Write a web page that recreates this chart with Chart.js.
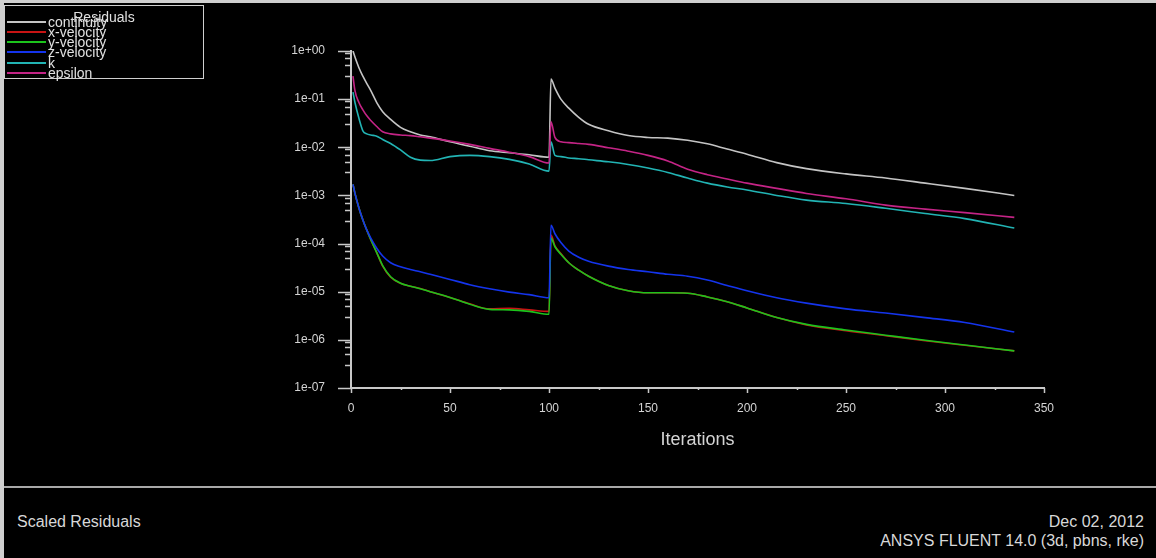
<!DOCTYPE html>
<html>
<head>
<meta charset="utf-8">
<script src="https://cdn.jsdelivr.net/npm/chart.js@4.4.1/dist/chart.umd.min.js"></script>
<style>
  html, body { margin: 0; padding: 0; background: #000; }
  body { width: 1156px; height: 558px; position: relative; overflow: hidden; font-family: "Liberation Sans", Arial, sans-serif; }
  #plot { position: absolute; left: 0; top: 0; }
  .edge { position: absolute; background: #cfcfcf; }
  #legend { position: absolute; left: 4px; top: 5px; width: 198px; height: 72px; border: 1px solid #cfcfcf; }
  #legend .title { position: absolute; left: 0; width: 198px; top: 4px; text-align: center; color: #e0e0e0; font-size: 14px; line-height: 14px; }
  #legend .swatch { position: absolute; left: 2px; width: 39px; height: 2px; }
  #legend .name { position: absolute; left: 43px; color: #e0e0e0; font-size: 14px; line-height: 14px; white-space: nowrap; }
  #sep { position: absolute; left: 4px; right: 0; top: 486px; height: 2px; background: #a8a8a8; }
  .foot { position: absolute; color: #d8d8d8; font-size: 16px; line-height: 18px; white-space: nowrap; }
</style>
</head>
<body>
<canvas id="plot" width="1156" height="486"></canvas>
<div class="edge" style="left:0;top:0;width:1156px;height:3px"></div>
<div class="edge" style="left:0;top:0;width:4px;height:558px"></div>
<div id="legend"><div class="title">Residuals</div></div>
<div id="sep"></div>
<div class="foot" style="left:17px;top:513px">Scaled Residuals</div>
<div class="foot" style="right:12px;top:513px">Dec 02, 2012</div>
<div class="foot" style="right:12px;top:532px">ANSYS FLUENT 14.0 (3d, pbns, rke)</div>
<script>
// Solver iterations at which the residuals are sampled
const iterations = [1, 2, 4, 6, 8, 10, 13, 16, 20, 25, 30, 35, 40, 50, 60, 70, 80, 90, 100,
  101, 103, 106, 110, 115, 120, 130, 140, 150, 160, 170, 180, 190, 200, 215, 230, 250, 270, 290, 310, 335];

// Scaled residuals per equation
const continuity = [1.0, 0.75, 0.45, 0.30, 0.21, 0.15, 0.085, 0.055, 0.038, 0.026, 0.021, 0.018, 0.0165, 0.013, 0.0105, 0.0085, 0.0077, 0.0070, 0.0062,
  0.26, 0.17, 0.10, 0.065, 0.042, 0.030, 0.022, 0.0175, 0.016, 0.0155, 0.014, 0.0118, 0.0092, 0.0072, 0.0048, 0.0036, 0.0028, 0.0023, 0.0018, 0.0014, 0.0010];
const xVelocity = [0.0017, 0.0011, 0.00055, 0.00031, 0.00019, 0.00012, 6.5e-5, 3.4e-5, 2.0e-5, 1.5e-5, 1.3e-5, 1.17e-5, 1.0e-5, 7.6e-6, 5.6e-6, 4.4e-6, 4.5e-6, 4.2e-6, 3.9e-6,
  1.5e-4, 9.0e-5, 6.2e-5, 4.0e-5, 2.8e-5, 2.1e-5, 1.35e-5, 1.05e-5, 9.5e-6, 9.5e-6, 9.3e-6, 7.8e-6, 6.2e-6, 4.6e-6, 2.9e-6, 2.05e-6, 1.55e-6, 1.22e-6, 9.6e-7, 7.7e-7, 5.9e-7];
const yVelocity = [0.0017, 0.0011, 0.00055, 0.00031, 0.00019, 0.00012, 6.5e-5, 3.5e-5, 2.05e-5, 1.5e-5, 1.3e-5, 1.15e-5, 1.0e-5, 7.6e-6, 5.5e-6, 4.3e-6, 4.2e-6, 3.9e-6, 3.4e-6,
  1.3e-4, 8.6e-5, 6.0e-5, 4.0e-5, 2.8e-5, 2.1e-5, 1.35e-5, 1.05e-5, 9.5e-6, 9.5e-6, 9.3e-6, 7.8e-6, 6.2e-6, 4.6e-6, 2.9e-6, 2.1e-6, 1.6e-6, 1.25e-6, 9.8e-7, 7.8e-7, 5.9e-7];
const zVelocity = [0.0017, 0.0011, 0.00055, 0.00031, 0.00019, 0.00013, 8.0e-5, 5.5e-5, 4.0e-5, 3.3e-5, 2.9e-5, 2.6e-5, 2.3e-5, 1.8e-5, 1.4e-5, 1.15e-5, 9.8e-6, 8.7e-6, 7.5e-6,
  2.4e-4, 1.6e-4, 1.05e-4, 7.0e-5, 5.2e-5, 4.3e-5, 3.4e-5, 2.9e-5, 2.6e-5, 2.3e-5, 2.1e-5, 1.75e-5, 1.35e-5, 1.05e-5, 7.5e-6, 5.8e-6, 4.4e-6, 3.6e-6, 2.9e-6, 2.3e-6, 1.45e-6];
const kResidual = [0.14, 0.085, 0.040, 0.022, 0.019, 0.018, 0.017, 0.0145, 0.012, 0.0088, 0.0062, 0.0054, 0.0053, 0.0064, 0.0068, 0.0064, 0.0056, 0.0045, 0.0032,
  0.013, 0.0068, 0.0064, 0.0060, 0.0058, 0.0055, 0.0050, 0.0044, 0.0037, 0.0030, 0.0023, 0.0018, 0.0015, 0.0013, 0.0010, 0.00080, 0.00068, 0.00054, 0.00042, 0.00033, 0.00021];
const epsilon = [0.30, 0.15, 0.085, 0.060, 0.045, 0.036, 0.027, 0.021, 0.019, 0.018, 0.0175, 0.0165, 0.0155, 0.0135, 0.0115, 0.0095, 0.0079, 0.0064, 0.0047,
  0.034, 0.016, 0.013, 0.0125, 0.012, 0.0115, 0.0098, 0.0083, 0.0068, 0.0052, 0.0035, 0.0027, 0.0022, 0.0018, 0.0014, 0.0011, 0.00085, 0.00063, 0.00052, 0.00044, 0.00035];

const seriesNames = ['continuity', 'x-velocity', 'y-velocity', 'z-velocity', 'k', 'epsilon'];
const seriesColors = ['#c4c4c4', '#c81414', '#1cc41c', '#1434ec', '#22b4b4', '#c42486'];
const seriesValues = [continuity, xVelocity, yVelocity, zVelocity, kResidual, epsilon];

// Axis ticks
const xTickValues = [0, 50, 100, 150, 200, 250, 300, 350];
const xTickLabels = ['0', '50', '100', '150', '200', '250', '300', '350'];
const xMinorValues = [25, 75, 125, 175, 225, 275, 325];
const yTickValues = [1e-7, 1e-6, 1e-5, 1e-4, 1e-3, 1e-2, 1e-1, 1];
const yTickLabels = ['1e-07', '1e-06', '1e-05', '1e-04', '1e-03', '1e-02', '1e-01', '1e+00'];
const yMinorMultipliers = [3, 5, 7, 9];

const axisColor = '#c8c8c8';
const textColor = '#d4d4d4';

// Outward tick marks: long ones at decades / labelled iterations, short ones in between
const tickMarks = {
  id: 'tickMarks',
  afterDraw(chart) {
    const { ctx, chartArea: a, scales: { x, y } } = chart;
    ctx.save();
    ctx.strokeStyle = axisColor;
    ctx.lineWidth = 1.5;
    ctx.beginPath();
    yTickValues.forEach(v => {
      const py = Math.round(y.getPixelForValue(v)) + 0.5;
      ctx.moveTo(a.left - 13, py); ctx.lineTo(a.left, py);
      if (v < 1) {
        yMinorMultipliers.forEach(m => {
          const my = Math.round(y.getPixelForValue(v * m)) + 0.5;
          ctx.moveTo(a.left - 6, my); ctx.lineTo(a.left, my);
        });
      }
    });
    xTickValues.forEach(v => {
      const px = Math.round(x.getPixelForValue(v)) + 0.5;
      ctx.moveTo(px, a.bottom); ctx.lineTo(px, a.bottom + 5);
    });
    xMinorValues.forEach(v => {
      const px = Math.round(x.getPixelForValue(v)) + 0.5;
      ctx.moveTo(px, a.bottom); ctx.lineTo(px, a.bottom + 2);
    });
    ctx.stroke();
    ctx.restore();
  }
};

const datasets = seriesNames.map((name, i) => ({
  label: name,
  data: iterations.map((it, j) => ({ x: it, y: seriesValues[i][j] })),
  borderColor: seriesColors[i],
  backgroundColor: seriesColors[i],
  borderWidth: 1.6,
  pointRadius: 0,
  fill: false,
  cubicInterpolationMode: 'monotone',
  order: seriesNames.length - i
}));

const chart = new Chart(document.getElementById('plot'), {
  type: 'line',
  data: { datasets },
  options: {
    responsive: false,
    animation: false,
    layout: { padding: { top: 51, right: 112, left: 0, bottom: 0 } },
    plugins: { legend: { display: false }, tooltip: { enabled: false } },
    scales: {
      x: {
        type: 'linear',
        min: 0, max: 350,
        afterFit: s => { s.height = 98; },
        afterBuildTicks: s => { s.ticks = xTickValues.map(v => ({ value: v })); },
        border: { display: true, color: axisColor, width: 2 },
        grid: { display: true, drawOnChartArea: false, drawTicks: true, tickLength: 5, tickColor: 'rgba(0,0,0,0)' },
        ticks: {
          autoSkip: false, maxRotation: 0, padding: 8, color: textColor,
          font: { family: 'Liberation Sans', size: 12 },
          callback: v => xTickLabels[xTickValues.indexOf(v)]
        },
        title: {
          display: true, text: 'Iterations', color: textColor,
          font: { family: 'Liberation Sans', size: 18 },
          padding: { top: 0, bottom: 35 }
        }
      },
      y: {
        type: 'logarithmic',
        min: 1e-7, max: 1,
        afterFit: s => { s.width = 351; },
        afterBuildTicks: s => { s.ticks = yTickValues.map(v => ({ value: v })); },
        border: { display: true, color: axisColor, width: 2 },
        grid: { display: true, drawOnChartArea: false, drawTicks: true, tickLength: 13, tickColor: 'rgba(0,0,0,0)' },
        ticks: {
          autoSkip: false, padding: 13, color: textColor,
          font: { family: 'Liberation Sans', size: 12 },
          callback: v => yTickLabels[yTickValues.indexOf(v)]
        }
      }
    }
  },
  plugins: [tickMarks]
});

// Legend panel built from the chart's datasets
const legend = document.getElementById('legend');
chart.data.datasets.forEach((ds, i) => {
  const rowY = 15.7 + i * 10.2;
  const sw = document.createElement('div');
  sw.className = 'swatch';
  sw.style.top = (rowY - 1) + 'px';
  sw.style.background = ds.borderColor;
  legend.appendChild(sw);
  const nm = document.createElement('div');
  nm.className = 'name';
  nm.style.top = (rowY - 7) + 'px';
  nm.textContent = ds.label;
  legend.appendChild(nm);
});
</script>
</body>
</html>
